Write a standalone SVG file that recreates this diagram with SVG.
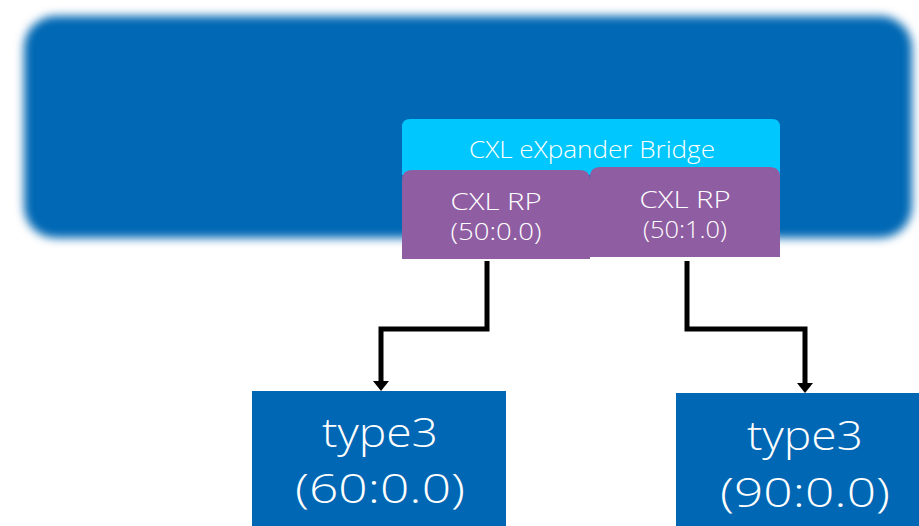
<svg xmlns="http://www.w3.org/2000/svg" width="919" height="526" viewBox="0 0 919 526">
<defs>
<filter id="blur" x="-5%" y="-10%" width="110%" height="120%"><feGaussianBlur stdDeviation="5"/></filter>
</defs>
<style>
text{font-family:"Open Sans","Liberation Sans",sans-serif;font-weight:300;fill:#fff;text-anchor:middle}
.sm{font-size:23px}
.lg{font-size:40px}
.wire{fill:none;stroke:#000;stroke-width:5}
</style>
<rect width="919" height="526" fill="#fff"/>
<g id="host"><rect x="24" y="16" width="888" height="222" rx="32" fill="#0067b4" filter="url(#blur)"/></g>
<g id="bridge"><path d="M402,175 V127 Q402,119 410,119 H772 Q780,119 780,127 V175 Z" fill="#00c7fd"/><text class="sm" x="592" y="158" textLength="246" lengthAdjust="spacingAndGlyphs">CXL eXpander Bridge</text></g>
<g id="rp0"><path d="M402,259 V180 Q402,170 412,170 H580 Q590,170 590,180 V259 Z" fill="#8f5da2"/><text class="sm" x="496" y="210" textLength="91" lengthAdjust="spacingAndGlyphs">CXL RP</text><text class="sm" x="496" y="240" textLength="91" lengthAdjust="spacingAndGlyphs">(50:0.0)</text></g>
<g id="rp1"><path d="M590,257 V177 Q590,167 600,167 H770 Q780,167 780,177 V257 Z" fill="#8f5da2"/><text class="sm" x="685" y="208" textLength="91" lengthAdjust="spacingAndGlyphs">CXL RP</text><text class="sm" x="685" y="238" textLength="84" lengthAdjust="spacingAndGlyphs">(50:1.0)</text></g>
<g id="t60"><rect x="252" y="391" width="254" height="135" fill="#0067b4"/><text class="lg" x="380" y="447" textLength="116" lengthAdjust="spacingAndGlyphs">type3</text><text class="lg" x="380" y="503" textLength="170" lengthAdjust="spacingAndGlyphs">(60:0.0)</text></g>
<g id="t90"><rect x="676" y="393" width="243" height="133" fill="#0067b4"/><text class="lg" x="805" y="450" textLength="116" lengthAdjust="spacingAndGlyphs">type3</text><text class="lg" x="805" y="507" textLength="170" lengthAdjust="spacingAndGlyphs">(90:0.0)</text></g>
<g id="connectors">
<path class="wire" d="M487,261 V329 H381 V382"/><path d="M373,381 H389 L381,391 Z" fill="#000"/>
<path class="wire" d="M687,261 V329 H805 V384"/><path d="M797,383 H813 L805,393 Z" fill="#000"/>
</g>
</svg>
